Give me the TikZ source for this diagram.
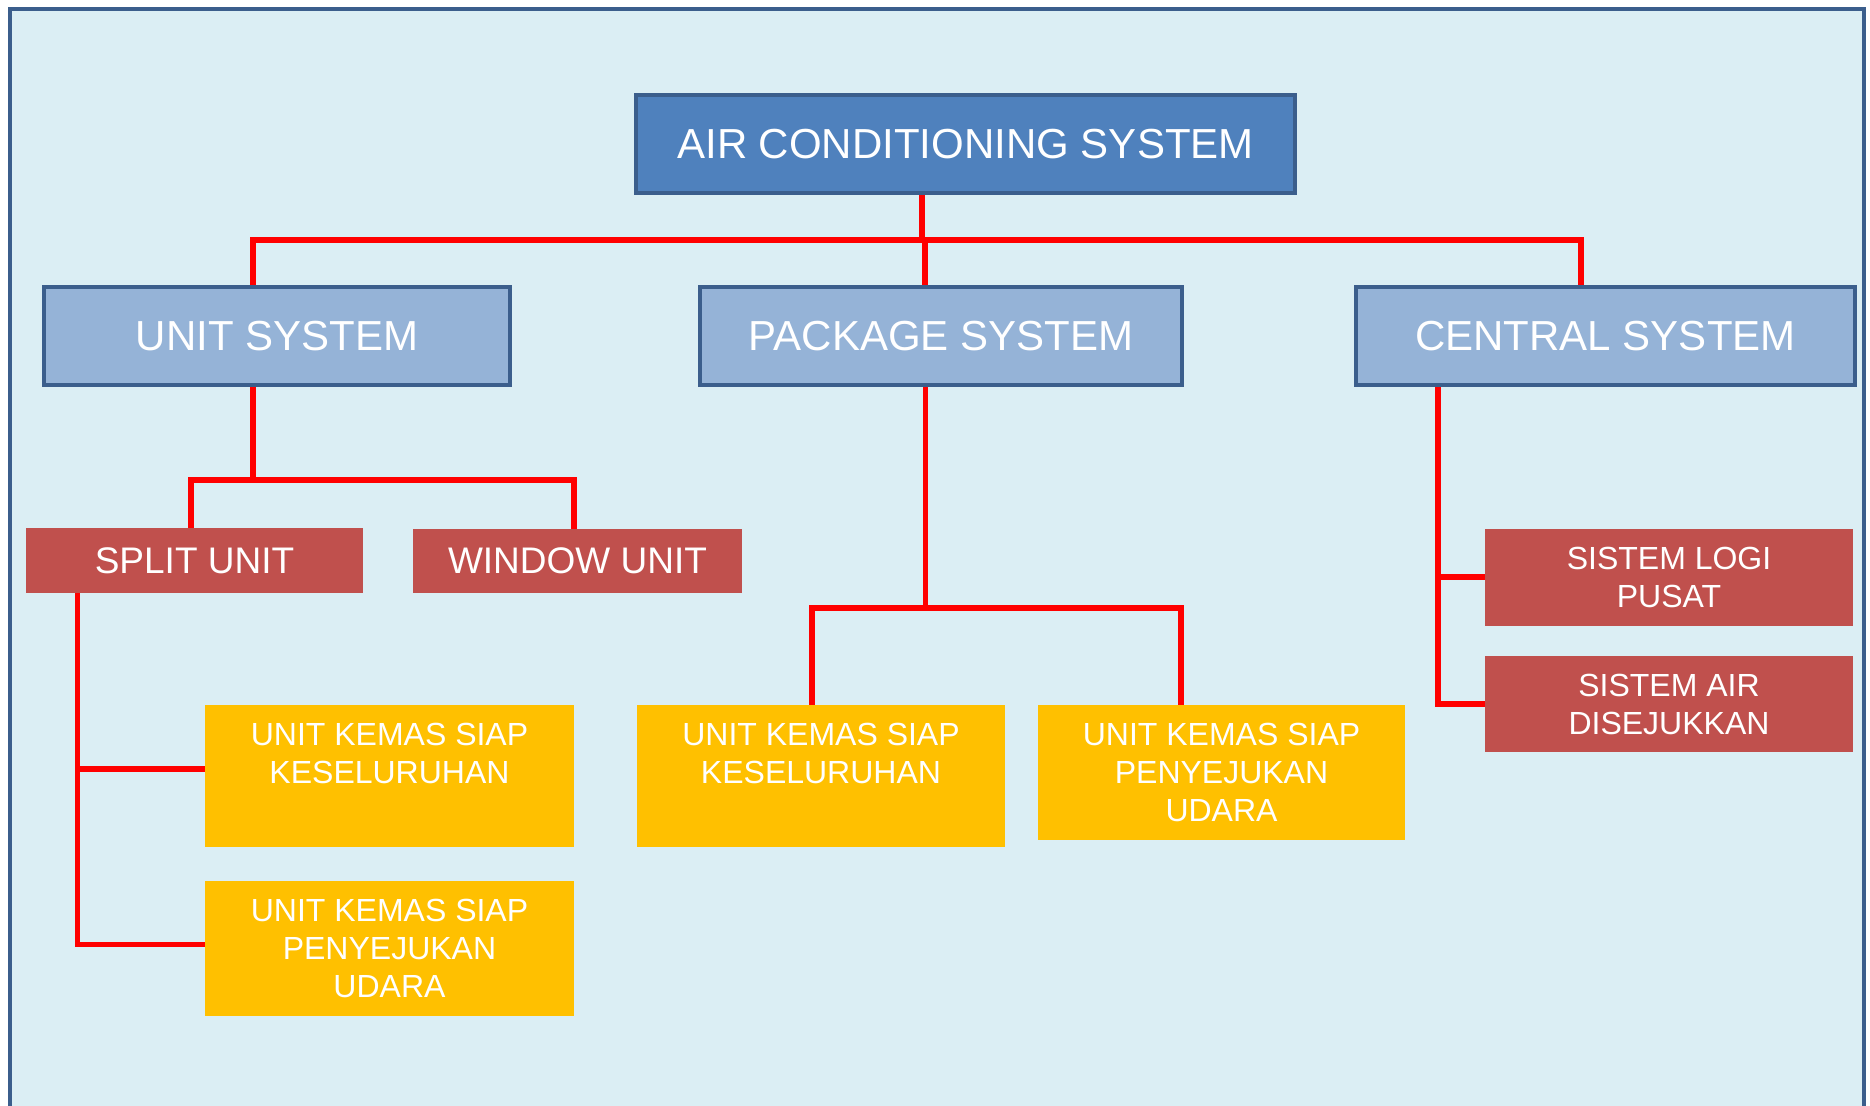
\documentclass[tikz,border=0pt]{standalone}
\usepackage{fontspec}
\setmainfont{Liberation Sans}
\definecolor{bgblue}{HTML}{DBEEF4}
\definecolor{frameblue}{HTML}{3B5E8C}
\definecolor{topblue}{HTML}{4F81BD}
\definecolor{midblue}{HTML}{95B3D7}
\definecolor{boxred}{HTML}{C0504D}
\definecolor{boxyellow}{HTML}{FFC000}
\definecolor{linkred}{HTML}{FF0000}
\newcommand{\ytopbox}[3]{\parbox[c][#1][t]{#2}{\centering\vspace*{9.3pt}#3}}
\begin{document}
\begin{tikzpicture}[x=0.5pt,y=-0.5pt,
  bluebox/.style={draw=frameblue, line width=2.3pt, text=white, inner sep=0pt,
    font=\fontsize{21}{25}\selectfont},
  topbox/.style={bluebox, fill=topblue},
  midbox/.style={bluebox, fill=midblue},
  redbox/.style={fill=boxred, text=white, inner sep=0pt, align=center},
  yelbox/.style={fill=boxyellow, text=white, inner sep=0pt, align=center,
    font=\fontsize{16}{19}\selectfont},
  link/.style={draw=linkred, line width=2.6pt}]
\useasboundingbox (0,0) rectangle (1870,1106);
\fill[bgblue] (10,9) rectangle (1864,1106);
\draw[frameblue, line width=2.3pt] (10,1110) -- (10,9) -- (1864,9) -- (1864,1110);

% boxes
\node[topbox, minimum width=329.5pt, minimum height=49pt] (top) at (965.5,144) {AIR CONDITIONING SYSTEM};
\node[midbox, minimum width=233pt, minimum height=49pt] (unit) at (277,336) {UNIT SYSTEM};
\node[midbox, minimum width=241pt, minimum height=49pt] (pack) at (941,336) {PACKAGE SYSTEM};
\node[midbox, minimum width=249.5pt, minimum height=49pt] (cent) at (1605.5,336) {CENTRAL SYSTEM};

\node[redbox, minimum width=168.5pt, minimum height=32.5pt, font=\fontsize{18.5}{22}\selectfont] (split) at (194.5,560.5) {SPLIT UNIT};
\node[redbox, minimum width=164.5pt, minimum height=31.75pt, font=\fontsize{18.5}{22}\selectfont] (window) at (577.5,561.25) {WINDOW UNIT};

\node[yelbox, minimum width=184.5pt, minimum height=71pt] (l1) at (389.5,776) {\ytopbox{71pt}{184.5pt}{UNIT KEMAS SIAP\\KESELURUHAN}};
\node[yelbox, minimum width=184.5pt, minimum height=67.5pt] (l2) at (389.5,948.5) {UNIT KEMAS SIAP\\PENYEJUKAN\\UDARA};
\node[yelbox, minimum width=184pt, minimum height=71pt] (m1) at (821,776) {\ytopbox{71pt}{184pt}{UNIT KEMAS SIAP\\KESELURUHAN}};
\node[yelbox, minimum width=183.5pt, minimum height=67.5pt] (m2) at (1221.5,772.5) {UNIT KEMAS SIAP\\PENYEJUKAN\\UDARA};

\node[redbox, minimum width=184pt, minimum height=48.25pt, font=\fontsize{16}{19}\selectfont] (c1) at (1669,577.75) {SISTEM LOGI\\PUSAT};
\node[redbox, minimum width=184pt, minimum height=48.25pt, font=\fontsize{16}{19}\selectfont] (c2) at (1669,704.25) {SISTEM AIR\\DISEJUKKAN};

% junction coordinates
\coordinate (ja) at (253,240);
\coordinate (jb) at (1581,240);
\coordinate (jt) at (922,240);
\coordinate (jp) at (925,240);
\coordinate (u1) at (253,480);
\coordinate (ul) at (191,480);
\coordinate (ur) at (574,480);
\coordinate (s1) at (77.5,769);
\coordinate (s2) at (77.5,944.5);
\coordinate (p1) at (925.5,608);
\coordinate (pl) at (812,608);
\coordinate (pr) at (1181,608);
\coordinate (k1) at (1438,577);
\coordinate (k2) at (1438,704);

% connectors
\draw[link] (top.south -| jt) -- (jt);
\draw[link] (unit.north -| ja) -- (ja) -- (jb) -- (cent.north -| jb);
\draw[link] (jp) -- (pack.north -| jp);
\draw[link] (unit.south -| u1) -- (u1);
\draw[link] (split.north -| ul) -- (ul) -- (ur) -- (window.north -| ur);
\draw[link] (split.south -| s1) -- (s2) -- (l2.west |- s2);
\draw[link] (s1) -- (l1.west |- s1);
\draw[link] (pack.south -| p1) -- (p1);
\draw[link] (m1.north -| pl) -- (pl) -- (pr) -- (m2.north -| pr);
\draw[link] (cent.south -| k2) -- (k2) -- (c2.west |- k2);
\draw[link] (k1) -- (c1.west |- k1);
\end{tikzpicture}
\end{document}
